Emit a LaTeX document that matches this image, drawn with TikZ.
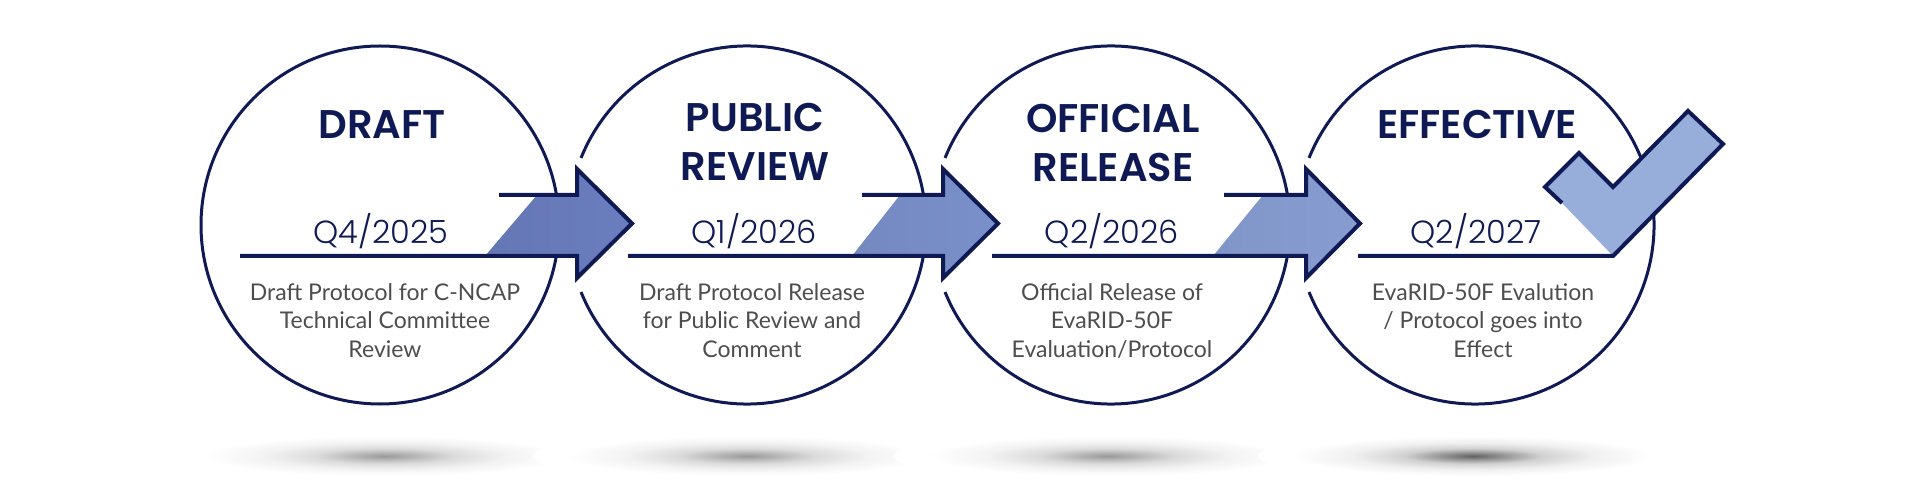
\documentclass[tikz,border=0pt]{standalone}
\usepackage{fontspec}
\setmainfont{Lato}
\newfontfamily\titlefont{Poppins SemiBold}
\newfontfamily\datefont{Poppins Light}
\definecolor{navy}{HTML}{0F1A55}
\definecolor{textgray}{HTML}{4D4D4D}
\definecolor{fillA}{HTML}{6A7DBE}
\definecolor{fillB}{HTML}{7A90CA}
\definecolor{fillC}{HTML}{879DD2}
\definecolor{fillD}{HTML}{97AEDB}
\pgfdeclareradialshading{blob}{\pgfpoint{0bp}{0bp}}{color(0bp)=(black!40); color(3bp)=(black!30); color(8bp)=(black!14); color(14bp)=(black!5); color(21bp)=(white); color(50bp)=(white)}
\pgfdeclareradialshading{blobdark}{\pgfpoint{0bp}{0bp}}{color(0bp)=(black!62); color(3bp)=(black!45); color(8bp)=(black!18); color(14bp)=(black!6); color(21bp)=(white); color(50bp)=(white)}

\begin{document}
\begin{tikzpicture}[x=0.5pt,y=-0.5pt,
    ring/.style={navy,line width=1.5pt},
    arrowline/.style={navy,line width=2pt,line join=miter},
    stagetitle/.style={navy,font=\titlefont\fontsize{20}{24.5}\selectfont,align=center,inner sep=0pt,anchor=north},
    stagedate/.style={navy,font=\datefont\fontsize{16}{18}\selectfont,inner sep=0pt,anchor=base},
    stagetext/.style={textgray,font=\fontsize{11.5}{14.25}\selectfont,align=center,inner sep=0pt,anchor=north}]
    \useasboundingbox (0,0) rectangle (1920,491);
    \coordinate (c1) at (380,225);
    \coordinate (c2) at (747,225);
    \coordinate (c3) at (1111,225);
    \coordinate (c4) at (1475,225);
    % Shadows
    \shade[shading=blob] (385,456) ellipse [x radius=215, y radius=24];
    \shade[shading=blob] (747,456) ellipse [x radius=215, y radius=24];
    \shade[shading=blob] (1108,456) ellipse [x radius=215, y radius=24];
    \shade[shading=blobdark] (1473,456) ellipse [x radius=215, y radius=24];
    % Circles, open on the left where an arrow comes in
    \draw[ring] (c1) circle[radius=179];
    \draw[ring] (c2) ++(202:179) arc[start angle=202, end angle=518, radius=179];
    \draw[ring] (c3) ++(202:179) arc[start angle=202, end angle=518, radius=179];
    \draw[ring] (c4) ++(202:179) arc[start angle=202, end angle=518, radius=179];
    % Arrow 1
    \shade[left color=fillA!95!black, right color=fillA] (485,256) -- (537,195) -- (577,195) -- (577,169)
        -- (632,223.5) -- (577,278) -- (577,256) -- cycle;
    \draw[arrowline] (499,195) -- (577,195) -- (577,169) -- (632,223.5) -- (577,278) -- (577,256) -- (240,256);
    % Arrow 2
    \shade[left color=fillB!95!black, right color=fillB] (852,256) -- (900,195) -- (943,195) -- (943,169)
        -- (998,223.5) -- (943,278) -- (943,256) -- cycle;
    \draw[arrowline] (862,195) -- (943,195) -- (943,169) -- (998,223.5) -- (943,278) -- (943,256) -- (628,256);
    % Arrow 3
    \shade[left color=fillC!95!black, right color=fillC] (1213,256) -- (1263,195) -- (1306,195) -- (1306,169)
        -- (1360,223.5) -- (1306,278) -- (1306,256) -- cycle;
    \draw[arrowline] (1224,195) -- (1306,195) -- (1306,169) -- (1360,223.5) -- (1306,278) -- (1306,256) -- (992,256);
    % Check mark
    \fill[fillD] (1562,203) -- (1545,187) -- (1579,153) -- (1613,187) -- (1688,111) -- (1723,144) -- (1613,256) -- cycle;
    \draw[arrowline] (1562,203) -- (1545,187) -- (1579,153) -- (1613,187) -- (1688,111) -- (1723,144)
        -- (1613,256) -- (1358,256);
    % Titles
    \node[stagetitle] (t1) at (382,110) {DRAFT};
    \node[stagetitle] (t2) at (755,103) {PUBLIC\\REVIEW};
    \node[stagetitle] (t3) at (1113,104) {OFFICIAL\\RELEASE};
    \node[stagetitle] (t4) at (1477,110) {EFFECTIVE};
    % Dates
    \node[stagedate] (q1) at (381,244) {Q4/2025};
    \node[stagedate] (q2) at (754,244) {Q1/2026};
    \node[stagedate] (q3) at (1112,244) {Q2/2026};
    \node[stagedate] (q4) at (1476,244) {Q2/2027};
    % Descriptions
    \node[stagetext] (d1) at (385,283) {Draft Protocol for C-NCAP\\Technical Committee\\Review};
    \node[stagetext] (d2) at (752,283) {Draft Protocol Release\\for Public Review and\\Comment};
    \node[stagetext] (d3) at (1112,283) {Official Release of\\EvaRID-50F\\Evaluation/Protocol};
    \node[stagetext] (d4) at (1483,283) {EvaRID-50F Evalution\\/ Protocol goes into\\Effect};
\end{tikzpicture}
\end{document}
